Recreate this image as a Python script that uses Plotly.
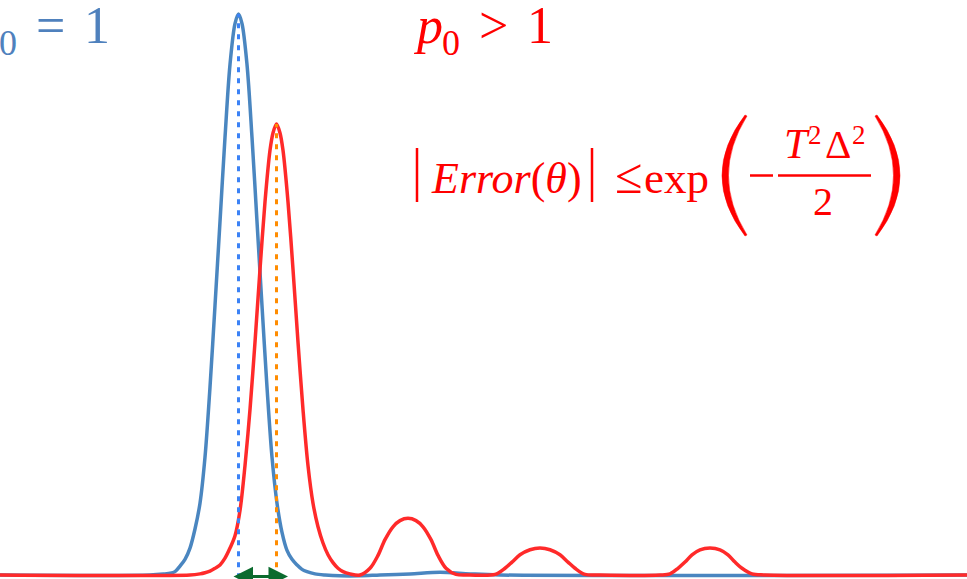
import plotly.graph_objects as go

# ---------------- data ----------------
# horizontal position (theta, arbitrary units) and height (percent of blue peak)
blue_x = [0, 150, 165, 170, 175, 180, 185, 190, 195, 200, 205, 210, 215, 220, 225,
          230, 235, 238.5, 242, 247, 252, 257, 262, 267, 272, 277, 282, 287, 292,
          297, 302, 307, 315, 325, 340, 360, 380, 410, 440, 470, 500, 967]
blue_y = [0, 0, 0.2, 0.3, 0.6, 1.6, 2.8, 4.8, 8.2, 12.8, 21, 33.5, 48, 63, 78,
          91, 98.3, 100, 98.3, 91, 78, 63, 48, 33.5, 21, 12.8, 7.6, 4.4, 2.8,
          1.8, 1.0, 0.6, 0.2, 0, -0.15, -0.15, 0, 0.2, 0.5, 0.2, 0, 0]

red_x = [0, 190, 200, 205, 210, 215, 220, 225, 230, 235, 240, 245, 250, 255, 260,
         265, 270, 273, 276.5, 280, 283, 288, 293, 298, 303, 308, 313, 318, 323, 328, 333,
         338, 343, 350, 360, 370, 378, 385, 393, 400, 408, 416, 423, 431, 438,
         446, 456, 470, 495, 505, 512, 520, 530, 540, 550, 560, 568, 575, 585,
         600, 660, 670, 678, 685, 692, 700, 710, 720, 728, 735, 742, 752, 765, 967]
red_y = [0, 0, 0.2, 0.4, 0.7, 1.2, 1.8, 3.0, 4.8, 7.0, 11.5, 19.5, 29.5, 41.5, 54.5,
         66.5, 75.7, 78.8, 80.4, 78.8, 75.7, 66.5, 54.5, 41.5, 29.5, 19.5, 12.8, 8.6, 5.7, 3.6, 2.2,
         1.2, 0.6, 0.2, 0, 1.2, 3.5, 6.3, 8.6, 9.7, 10.1, 9.7, 8.6, 6.3, 3.5,
         1.2, 0.1, 0, 0.1, 1.2, 2.3, 3.6, 4.5, 4.8, 4.5, 3.6, 2.3, 1.2, 0.1,
         0, 0, 0.2, 1.2, 2.3, 3.6, 4.5, 4.8, 4.5, 3.6, 2.3, 1.2, 0.2, 0, 0]

peak_x = [238.5, 276.5]      # blue peak, red peak
peak_h = [100, 80.4]
shift_arrow = [232, 288]     # extent of the green double arrow

# ---------------- figure ----------------
W, H = 967, 579
Y_RANGE = [-0.713, 102.5]

BLUE = "#4a86c0"
RED = "#ff2a2a"
TXT_RED = "#ff0000"
TXT_BLUE = "#4f81bd"
FONT = "Liberation Serif"

fig = go.Figure()

fig.add_trace(go.Scatter(x=blue_x, y=blue_y, mode="lines",
                         line=dict(color=BLUE, width=3.5, shape="spline", smoothing=0.9),
                         hoverinfo="skip"))
fig.add_trace(go.Scatter(x=red_x, y=red_y, mode="lines",
                         line=dict(color=RED, width=3.5, shape="spline", smoothing=0.9),
                         hoverinfo="skip"))

# dotted verticals at the peaks
for px_, ph_, col in zip(peak_x, peak_h, ["#3b82f6", "#ff8c00"]):
    fig.add_trace(go.Scatter(x=[px_, px_], y=[-0.6, ph_], mode="lines",
                             line=dict(color=col, width=3, dash="5px,6px"),
                             hoverinfo="skip"))

# green double arrow
fig.add_annotation(x=shift_arrow[1], y=-0.25, ax=shift_arrow[0], ay=-0.25,
                   xref="x", yref="y", axref="x", ayref="y", text="",
                   showarrow=True, arrowside="end+start", arrowhead=2,
                   arrowsize=1.3, arrowwidth=3, arrowcolor="#0b6b2e")


def X(px):
    return px / W


def Y(py):
    return 1 - py / H


def label(s, x, base, size, color, anchor="center"):
    fig.add_annotation(text=s, xref="paper", yref="paper",
                       x=X(x), y=Y(base - 0.3375 * size),
                       xanchor=anchor, yanchor="middle", showarrow=False,
                       font=dict(family=FONT, size=size, color=color))


# "p0 = 1" (blue, cut by the left border)
label("<i>p</i>", -16, 43, 52, TXT_BLUE)
label("0", 7.5, 55, 36, TXT_BLUE)
label("=", 50, 43, 52, TXT_BLUE)
label("1", 96.5, 43, 52, TXT_BLUE)

# "p0 > 1" (red)
label("<i>p</i>", 428, 43, 52, TXT_RED)
label("0", 451, 55, 36, TXT_RED)
label(">", 493, 43, 52, TXT_RED)
label("1", 540, 43, 52, TXT_RED)

# |Error(θ)| <= exp( - T^2 Δ^2 / 2 )
label("<i>Error</i>(<i>θ</i>)", 429, 193, 44, TXT_RED, anchor="left")
label("≤", 628.5, 193, 50, TXT_RED)
label("exp", 642, 193, 45, TXT_RED, anchor="left")
label("<i>T</i>", 797, 158, 42, TXT_RED)
label("2", 815, 144, 27, TXT_RED)
label("Δ", 838, 158, 41, TXT_RED)
label("2", 858.5, 144, 27, TXT_RED)
label("2", 823, 215, 40, TXT_RED)

shapes = []
for bx in (417, 592):
    shapes.append(dict(type="line", xref="paper", yref="paper",
                       x0=X(bx), x1=X(bx), y0=Y(148), y1=Y(202),
                       line=dict(color=TXT_RED, width=2.5)))
shapes.append(dict(type="line", xref="paper", yref="paper",
                   x0=X(750), x1=X(773), y0=Y(175.5), y1=Y(175.5),
                   line=dict(color=TXT_RED, width=2.5)))
shapes.append(dict(type="line", xref="paper", yref="paper",
                   x0=X(778), x1=X(871), y0=Y(175.5), y1=Y(175.5),
                   line=dict(color=TXT_RED, width=2.7)))


def P(x, y):
    return f"{X(x):.5f},{Y(y):.5f}"


lp = (f"M{P(745,115)} Q{P(699,175.5)} {P(745,236)} "
      f"L{P(747,235)} Q{P(710,175.5)} {P(747,116)} Z")
rp = (f"M{P(877,115)} Q{P(923,175.5)} {P(877,236)} "
      f"L{P(875,235)} Q{P(912,175.5)} {P(875,116)} Z")
for pth in (lp, rp):
    shapes.append(dict(type="path", xref="paper", yref="paper", path=pth,
                       fillcolor=TXT_RED, line=dict(color=TXT_RED, width=0.5)))

fig.update_layout(
    width=W, height=H, autosize=False,
    margin=dict(l=0, r=0, t=0, b=0),
    paper_bgcolor="white", plot_bgcolor="white",
    showlegend=False, shapes=shapes,
    xaxis=dict(range=[0, W], visible=False, fixedrange=True),
    yaxis=dict(range=Y_RANGE, visible=False, fixedrange=True),
)

fig.write_html("out.html", config={"displayModeBar": False},
               post_script="document.body.style.margin='0';")
